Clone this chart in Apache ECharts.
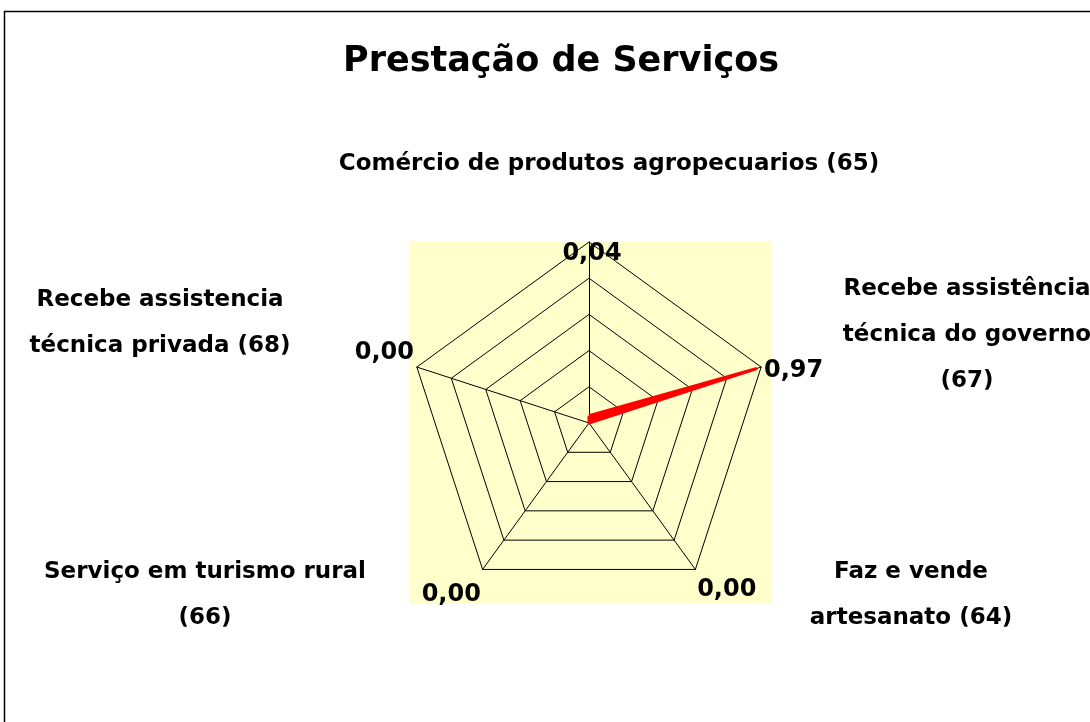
<!DOCTYPE html>
<html>
<head>
<meta charset="utf-8">
<script src="https://cdn.jsdelivr.net/npm/echarts@6/dist/echarts.min.js"></script>
<style>
html, body { margin: 0; padding: 0; background: #fff; }
#chartRadar { width: 1090px; height: 722px; }
</style>
</head>
<body>
<div id="chartRadar"></div>
<script>
// indicadores na ordem do ECharts (topo e depois sentido anti-horário)
var indicatorCodes = ['65', '68', '66', '64', '67'];
var categoryLabels = [
  'Comércio de produtos agropecuarios (65)',
  'Recebe assistencia\ntécnica privada (68)',
  'Serviço em turismo rural\n(66)',
  'Faz e vende\nartesanato (64)',
  'Recebe assistência\ntécnica do governo\n(67)'
];
var seriesValues = [0.04, 0.00, 0.00, 0.00, 0.97];
var vertexLabels = ['0,04', '0,00', '0,00', '0,00', '0,97'];
var radarMax = 1;
var chartTitle = 'Prestação de Serviços';

var FONT = "'Comic Sans MS', 'DejaVu Sans', sans-serif";
// posição dos rótulos das categorias (topo da primeira linha)
var labelPos = [[609, 141], [160, 277], [205, 549], [911, 549], [967, 266]];

var chartRadar = echarts.init(document.getElementById('chartRadar'));

var graphics = [
  {
    type: 'rect', z: -20, silent: true,
    shape: { x: 4.5, y: 11.5, width: 1200, height: 1000 },
    style: { fill: '#fff', stroke: '#000', lineWidth: 1.5 }
  },
  {
    type: 'rect', z: -10, silent: true,
    shape: { x: 409, y: 241, width: 363, height: 363 },
    style: { fill: '#ffffcc' }
  },
  {
    type: 'text', x: 561, y: 44,
    style: { text: chartTitle, fill: '#000', font: 'bold 35px ' + FONT, textAlign: 'center' }
  }
];
categoryLabels.forEach(function (txt, i) {
  graphics.push({
    type: 'text', x: labelPos[i][0], y: labelPos[i][1],
    style: {
      text: txt, fill: '#000', font: 'bold 23px ' + FONT,
      textAlign: 'center', lineHeight: 46
    }
  });
});

// deslocamento de cada número em volta do vértice
var rich = {
  v0: { padding: [30, 0, 0, 6] },
  v1: { padding: [0, 0, 26, 0] },
  v2: { padding: [46, 0, 0, 0] },
  v3: { padding: [36, 0, 0, 0] },
  v4: { padding: [10, 0, 0, 0] }
};
Object.keys(rich).forEach(function (k) {
  rich[k].fontSize = 24;
  rich[k].fontWeight = 'bold';
  rich[k].fontFamily = FONT;
  rich[k].color = '#000';
});

var option = {
  animation: false,
  graphic: graphics,
  radar: {
    center: [589, 423],
    radius: 181,
    startAngle: 90,
    shape: 'polygon',
    splitNumber: 5,
    nameGap: 3,
    indicator: indicatorCodes.map(function (c) {
      return { name: c, min: 0, max: radarMax };
    }),
    axisName: {
      color: '#000',
      verticalAlign: 'middle',
      formatter: function (name) {
        var i = indicatorCodes.indexOf(name);
        return '{v' + i + '|' + vertexLabels[i] + '}';
      },
      rich: rich
    },
    axisLine: { lineStyle: { color: '#000', width: 1 } },
    splitLine: { lineStyle: { color: '#000', width: 1 } },
    splitArea: { show: false },
    axisTick: { show: false },
    axisLabel: { show: false }
  },
  series: [
    {
      type: 'radar',
      symbol: 'none',
      lineStyle: { color: '#ff0000', width: 3 },
      areaStyle: { color: '#ff0000', opacity: 1 },
      data: [{ name: chartTitle, value: seriesValues }]
    }
  ]
};
chartRadar.setOption(option);
</script>
</body>
</html>
